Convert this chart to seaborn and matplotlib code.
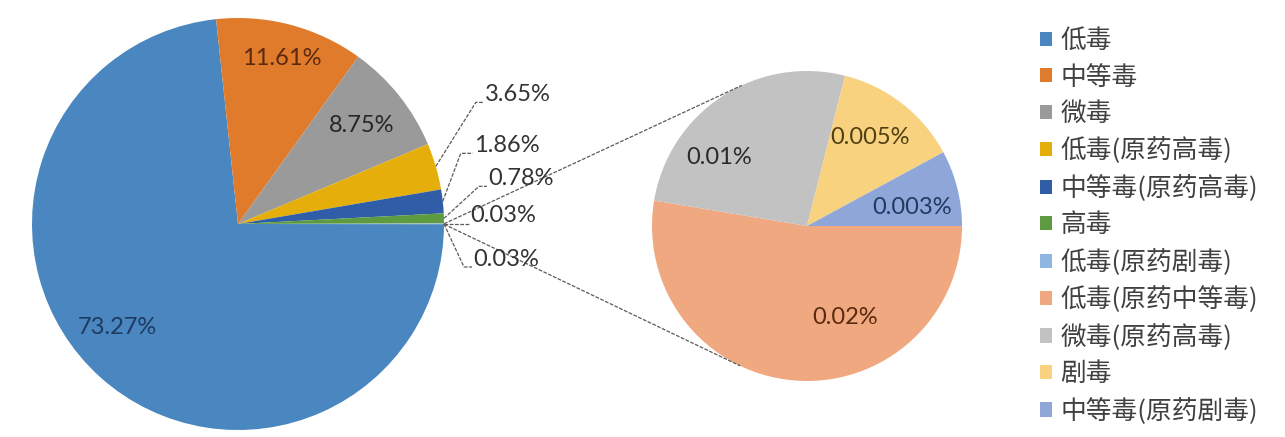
import numpy as np
import matplotlib
matplotlib.use("Agg")
import matplotlib.pyplot as plt
import seaborn as sns
from matplotlib.patches import Patch

# ---------------- data ----------------
main_labels = ["低毒", "中等毒", "微毒", "低毒(原药高毒)", "中等毒(原药高毒)", "高毒",
               "低毒(原药剧毒)", "其他"]
main_values = [73.27, 11.61, 8.75, 3.65, 1.86, 0.78, 0.03, 0.03]
main_texts = ["73.27%", "11.61%", "8.75%", "3.65%", "1.86%", "0.78%", "0.03%", "0.03%"]

sub_labels = ["低毒(原药中等毒)", "微毒(原药高毒)", "剧毒", "中等毒(原药剧毒)"]
sub_values = [0.02, 0.01, 0.005, 0.003]
sub_texts = ["0.02%", "0.01%", "0.005%", "0.003%"]

# ---------------- style ----------------
main_colors = ["#4A86BF", "#E07B2B", "#9A9A9A", "#E6AE0A", "#2F5DA8", "#5E9B40",
               "#8FB6E0", "#FFFFFF"]
sub_colors = ["#F0A880", "#C2C2C2", "#F8D27E", "#8FA7D8"]
main_text_colors = ["#1E3A60", "#5A2A0E", "#262626", "#333333", "#333333", "#333333",
                    "#333333", "#333333"]
sub_text_colors = ["#5A2A0E", "#2A2A2A", "#4F3F12", "#1E3A60"]

W, H = 1285, 437
sns.set_theme(style="white")
plt.rcParams["font.family"] = ["Noto Sans CJK SC", "DejaVu Sans"]

fig = plt.figure(figsize=(W / 100, H / 100), dpi=100)
fig.patch.set_facecolor("white")
ax = fig.add_axes([0, 0, 1, 1])

c1, r1 = (238, H - 224), 206
c2, r2 = (807, H - 226), 155

tot = sum(main_values)
other_deg = main_values[-1] / tot * 360
w1, _ = ax.pie(main_values, colors=main_colors, center=c1, radius=r1,
               startangle=-other_deg / 2, counterclock=False,
               wedgeprops=dict(linewidth=0), frame=True)
w2, _ = ax.pie(sub_values, colors=sub_colors, center=c2, radius=r2,
               startangle=0, counterclock=False,
               wedgeprops=dict(linewidth=0), frame=True)
ax.set_xlim(0, W)
ax.set_ylim(0, H)
ax.set_aspect("equal")
ax.axis("off")
w1[-1].set_visible(False)

def mid_angle(w):
    return np.deg2rad((w.theta1 + w.theta2) / 2)

lab_font = dict(family=["Lato", "DejaVu Sans"], fontsize=17)

# inside labels of main pie
in_nudge = [(-7.5, 0.77), (0.0, 0.83), (0.0, 0.77)]
for i, (dang, rf) in enumerate(in_nudge):
    a = mid_angle(w1[i]) + np.deg2rad(dang)
    ax.text(c1[0] + rf * r1 * np.cos(a), c1[1] + rf * r1 * np.sin(a), main_texts[i],
            ha="center", va="center", color=main_text_colors[i], **lab_font)

# outside labels with leader lines (offset of elbow from the wedge edge, text gap)
out_elbow = {3: (40, 64), 4: (18, 48), 5: (35, 32), 6: (25, 0), 7: (20, -43)}
out_gap = {3: 8, 4: 12, 5: 8, 6: 0, 7: 8}
lead_kw = dict(color="#5A5A5A", lw=0.9, linestyle=(0, (3, 1.2)))
for i, (dx, dy) in out_elbow.items():
    a = mid_angle(w1[i])
    x0, y0 = c1[0] + r1 * np.cos(a), c1[1] + r1 * np.sin(a)
    xe, ye = x0 + dx, y0 + dy
    g = out_gap[i]
    ax.plot([x0, xe, xe + g], [y0, ye, ye], **lead_kw)
    ax.text(xe + g + 1, ye + 8, main_texts[i], ha="left", va="center",
            color=main_text_colors[i], **lab_font)

# connector lines between the pies (tangents to the secondary pie)
a_o = mid_angle(w1[-1])
for sgn in (1, -1):
    a_edge = a_o + sgn * np.deg2rad(other_deg / 2)
    px, py = c1[0] + r1 * np.cos(a_edge), c1[1] + r1 * np.sin(a_edge)
    d = np.hypot(c2[0] - px, c2[1] - py)
    base = np.arctan2(py - c2[1], px - c2[0])
    t = base - sgn * np.arccos(r2 / d)
    tx, ty = c2[0] + r2 * np.cos(t), c2[1] + r2 * np.sin(t)
    ax.plot([px, tx], [py, ty], **lead_kw)

# labels of secondary pie
sub_nudge = [(27.0, 0.64), (19.0, 0.72), (2.5, 0.70), (-4.5, 0.69)]
for i, (dang, rf) in enumerate(sub_nudge):
    a = mid_angle(w2[i]) + np.deg2rad(dang)
    ax.text(c2[0] + rf * r2 * np.cos(a), c2[1] + rf * r2 * np.sin(a), sub_texts[i],
            ha="center", va="center", color=sub_text_colors[i], **lab_font)

# legend
handles = [Patch(facecolor=c, edgecolor="none") for c in main_colors[:-1] + sub_colors]
labels = main_labels[:-1] + sub_labels
fig.legend(handles, labels, loc="upper left",
           bbox_to_anchor=(1040 / W, (H - 28) / H), frameon=False,
           prop=dict(family=["Noto Sans CJK SC", "DejaVu Sans"], size=18.5),
           handlelength=0.47, handleheight=0.47, handletextpad=0.32,
           labelspacing=0.41, borderaxespad=0, borderpad=0, labelcolor="#404040")

fig.savefig("out.png", dpi=100, facecolor="white")
